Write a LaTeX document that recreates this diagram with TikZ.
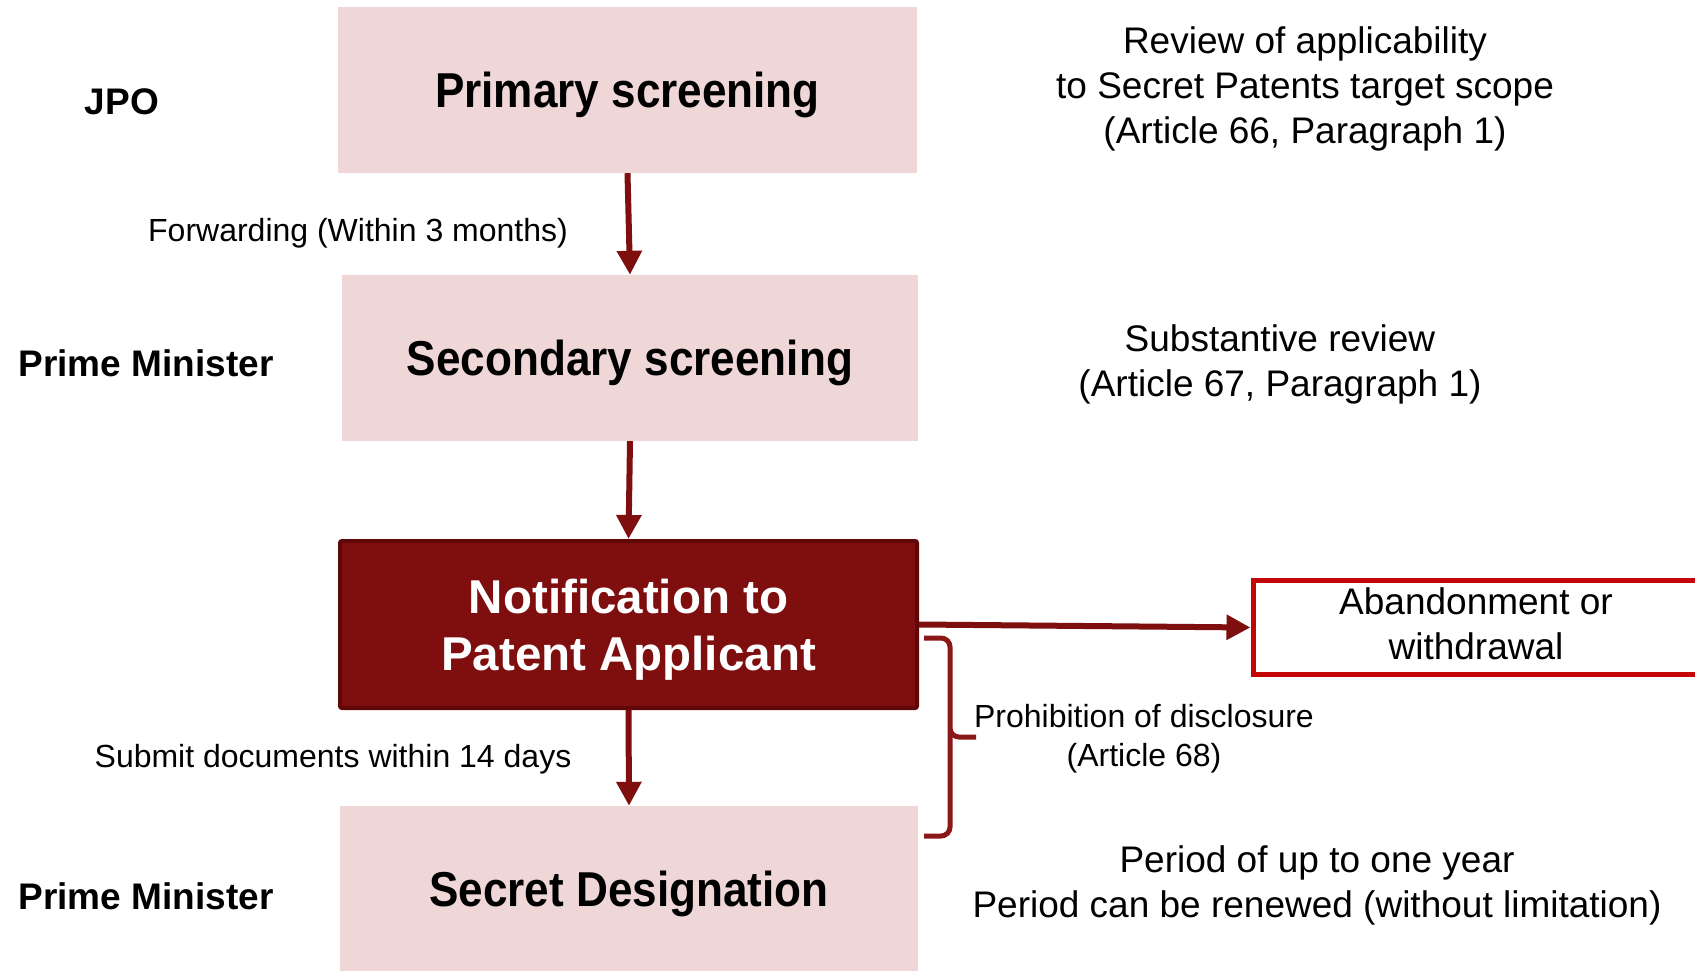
\documentclass[tikz,border=0pt]{standalone}
\usepackage{fontspec}
\setmainfont{Liberation Sans}
\newfontfamily\titlefont[FakeStretch=0.9]{Liberation Sans}
\usetikzlibrary{arrows.meta}

\definecolor{boxpink}{RGB}{239,215,216}
\definecolor{deepred}{RGB}{127,14,14}
\definecolor{deepredline}{RGB}{96,8,8}
\definecolor{alertred}{RGB}{196,6,6}
\definecolor{bracered}{RGB}{139,24,24}

\begin{document}
\begin{tikzpicture}[x=1pt,y=-1pt,
  stagebox/.style={fill=boxpink, draw=none, minimum width=#1, minimum height=166pt,
    inner sep=0pt},
  stagetitle/.style={inner sep=0pt, yshift=-5pt,
    font=\titlefont\fontsize{49}{58}\selectfont\bfseries},
  notebox/.style={fill=deepred, draw=deepredline, line width=4pt, rounded corners=2pt,
    minimum width=577pt, minimum height=167pt, inner sep=0pt},
  notetitle/.style={inner sep=0pt, yshift=-5pt, align=center, text=white,
    font=\fontsize{47.5}{57}\selectfont\bfseries},
  endbox/.style={draw=alertred, line width=5pt, fill=white, minimum width=470pt,
    minimum height=94pt, inner sep=0pt},
  rolelabel/.style={font=\fontsize{37}{45}\selectfont\bfseries, inner sep=0pt},
  remark/.style={font=\fontsize{37}{45}\selectfont, align=center, inner sep=0pt},
  steplabel/.style={font=\fontsize{32}{39}\selectfont, align=center, inner sep=0pt},
  flow/.style={draw=deepred, line width=6pt, -{Triangle[length=24pt,width=24pt]}},
  brace/.style={draw=bracered, line width=5pt, rounded corners=9pt}
]
% page
\fill[white] (0,0) rectangle (1695,971);
\useasboundingbox (0,0) rectangle (1695,971);
\clip (0,0) rectangle (1695,971);

% stages
\node[stagebox=579pt] (primary) at (627.5,90) {};
\node[stagetitle] (primarytext) at (primary.center) {Primary screening};
\node[stagebox=576pt] (secondary) at (630,358) {};
\node[stagetitle] (secondarytext) at (secondary.center) {Secondary screening};
\node[notebox] (notify) at (628.5,624.5) {};
\node[notetitle] (notifytext) at (notify.center) {Notification to\\Patent Applicant};
\node[stagebox=578pt] (designate) at (629,889) {};
\node[stagetitle] (designatetext) at (designate.center) {Secret Designation};
\node[endbox] (abandon) at (1488,627.5) {};
\node[remark] (abandontext) at (1476,624) {Abandonment or\\withdrawal};

% who acts
\node[rolelabel] (jpo) at (122,102) {JPO};
\node[rolelabel] (pm1) at (146,363) {Prime Minister};
\node[rolelabel] (pm2) at (146,896) {Prime Minister};

% flow
\draw[flow] (primary.south) -- (secondary.north);
\draw[flow] (secondary.south) -- (notify.north);
\draw[flow] (notify.south) -- (designate.north);
\draw[flow] (notify.east) -- (abandon.west);

\node[steplabel] (fwd) at (358,233.5) {Forwarding (Within 3 months)};
\node[steplabel] (submit) at (333,759.5) {Submit documents within 14 days};

% notes on the right
\node[remark] (note1) at (1305,88.5) {Review of applicability\\to Secret Patents target scope\\(Article 66, Paragraph 1)};
\node[remark] (note2) at (1280,364.5) {Substantive review\\(Article 67, Paragraph 1)};
\node[remark] (note3) at (1317,885.5) {Period of up to one year\\Period can be renewed (without limitation)};

% brace for the disclosure ban
\coordinate (braceTop) at (924,638);
\coordinate (braceTip) at (976,737);
\coordinate (braceBot) at (924,836);
\draw[brace] (braceTop) -- (950,638) -- (950,737) -- (braceTip);
\draw[brace] (950,730) -- (950,836) -- (braceBot);
\node[steplabel] (ban) at (1144,738.5) {Prohibition of disclosure\\(Article 68)};
\end{tikzpicture}
\end{document}
